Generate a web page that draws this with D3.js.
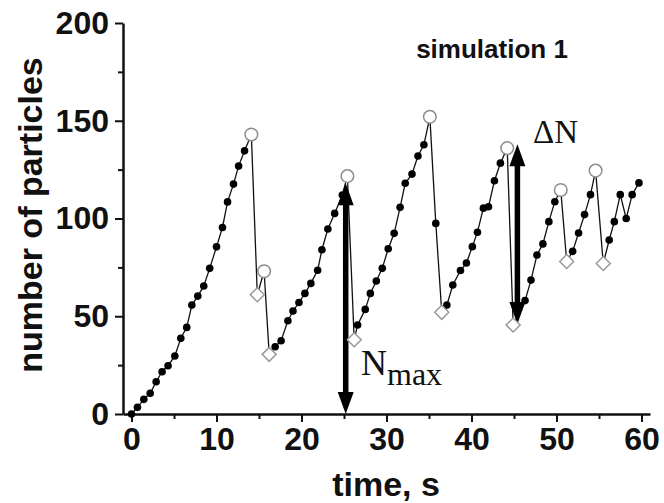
<!DOCTYPE html>
<html>
<head>
<meta charset="utf-8">
<script src="https://cdn.jsdelivr.net/npm/d3@7"></script>
<style>
  body { margin: 0; background: #fff; }
  svg { font-family: "Liberation Sans", Arial, sans-serif; }
</style>
</head>
<body>
<div id="chart"></div>
<script>
// Data: time (s) and number of particles
var dotTimes = [0, 0.7, 1.45, 2.2, 2.9, 3.6, 4.3, 5.1, 5.8, 6.5, 7.1, 7.8, 8.5, 9.2, 10.0, 10.7, 11.3, 12.0, 12.6, 13.3,
  16.9, 17.6, 18.4, 19.0, 19.7, 20.4, 21.1, 21.9, 22.4, 23.1, 23.9, 24.8,
  26.6, 27.5, 28.1, 28.8, 29.5, 30.2, 30.9, 31.6, 32.2, 33.0, 33.7, 34.4,
  35.8, 37.1, 37.8, 38.7, 39.4, 40.1, 40.7, 41.4, 42.0, 42.7, 43.4,
  46.3, 47.0, 47.7, 48.4, 49.1, 49.8,
  51.9, 52.6, 53.3, 54.0,
  56.2, 56.8, 57.5, 58.2, 58.9, 59.7];
var dotValues = [0, 3.4, 7.5, 10.6, 16.5, 21.6, 24.7, 29.7, 38.7, 44.3, 55.7, 60.3, 65.5, 74.5, 85.5, 95.4, 108.5, 117.6, 126.8, 134.6,
  34.4, 37.5, 47.7, 52.7, 57, 61.7, 66.8, 73.5, 84, 94.6, 102.6, 112,
  45.5, 53.5, 61.7, 68, 74.5, 84.5, 92.4, 105.7, 118, 122.7, 132, 137.7,
  97.5, 55.7, 66, 73.4, 77.2, 85.6, 93, 105.3, 106, 119.3, 128.3,
  58, 68.5, 81.3, 87, 98.4, 108.6,
  83.2, 92.6, 102, 112.2,
  89, 98.4, 112.2, 100, 112.2, 118.2];

// peaks (open circles) and troughs (open diamonds)
var peakTimes = [14.1, 15.6, 25.4, 35.1, 44.2, 50.5, 54.6];
var peakValues = [143, 73, 121.7, 152, 136, 114.6, 124.5];
var troughTimes = [14.8, 16.2, 26.2, 36.5, 44.9, 51.2, 55.5];
var troughValues = [61, 30.5, 38, 52, 45.5, 78, 77];

// annotation arrows: [time, from, to]
var nmaxArrow = [25.2, 118, 0];
var deltaArrow = [45.4, 138, 46];

var xTicks = [0, 10, 20, 30, 40, 50, 60];
var xMinor = [5, 15, 25, 35, 45, 55];
var yTicks = [0, 50, 100, 150, 200];
var yMinor = [25, 75, 125, 175];

var width = 664, height = 503;

var svg = d3.select("#chart").append("svg")
  .attr("width", width)
  .attr("height", height);

var x = d3.scaleLinear().domain([-1, 61]).range([123, 650]);
var y = d3.scaleLinear().domain([0, 200]).range([414, 23]);

// all points in time order for the connecting line
var points = [];
dotTimes.forEach(function(t, i) { points.push({ t: t, v: dotValues[i], kind: "dot" }); });
peakTimes.forEach(function(t, i) { points.push({ t: t, v: peakValues[i], kind: "peak" }); });
troughTimes.forEach(function(t, i) { points.push({ t: t, v: troughValues[i], kind: "trough" }); });
points.sort(function(a, b) { return a.t - b.t; });

// axes
svg.append("g")
  .attr("transform", "translate(0," + y(0) + ")")
  .call(d3.axisBottom(x).tickValues(xTicks).tickSize(8).tickSizeOuter(0).tickPadding(5));
svg.append("g")
  .attr("transform", "translate(0," + y(0) + ")")
  .call(d3.axisBottom(x).tickValues(xMinor).tickSize(5).tickFormat(""))
  .select(".domain").remove();

svg.append("g")
  .attr("transform", "translate(" + x(-1) + ",0)")
  .call(d3.axisLeft(y).tickValues(yTicks).tickSize(8).tickSizeOuter(0).tickPadding(6));
svg.append("g")
  .attr("transform", "translate(" + x(-1) + ",0)")
  .call(d3.axisLeft(y).tickValues(yMinor).tickSize(5).tickFormat(""))
  .select(".domain").remove();

svg.selectAll(".domain").attr("stroke", "#111").attr("stroke-width", 2.5);
svg.selectAll(".tick line").attr("stroke", "#111").attr("stroke-width", 2);
svg.selectAll(".tick text")
  .attr("fill", "#111")
  .style("font-size", "32px")
  .style("font-weight", "bold")
  .style("font-family", "'Liberation Sans', Arial, sans-serif");

// axis titles
svg.append("text")
  .attr("x", 386).attr("y", 496)
  .attr("text-anchor", "middle")
  .style("font-size", "34px").style("font-weight", "bold")
  .attr("fill", "#111")
  .text("time, s");

svg.append("text")
  .attr("transform", "translate(42,215) rotate(-90)")
  .attr("text-anchor", "middle")
  .style("font-size", "34px").style("font-weight", "bold")
  .attr("fill", "#111")
  .text("number of particles");

svg.append("text")
  .attr("x", 492).attr("y", 58)
  .attr("text-anchor", "middle")
  .style("font-size", "26px").style("font-weight", "bold")
  .attr("fill", "#111")
  .text("simulation 1");

// connecting line
svg.append("path")
  .datum(points)
  .attr("fill", "none")
  .attr("stroke", "#111")
  .attr("stroke-width", 1.3)
  .attr("d", d3.line().x(function(d) { return x(d.t); }).y(function(d) { return y(d.v); }));

// filled dots
svg.selectAll("circle.dot")
  .data(points.filter(function(d) { return d.kind === "dot"; }))
  .join("circle")
  .attr("class", "dot")
  .attr("cx", function(d) { return x(d.t); })
  .attr("cy", function(d) { return y(d.v); })
  .attr("r", 3.8)
  .attr("fill", "#000");

// arrows
function arrow(a) {
  var xp = x(a[0]), y1 = y(a[1]), y2 = y(a[2]);
  var dir = y2 > y1 ? 1 : -1;
  var head = 22, half = 8;
  svg.append("line")
    .attr("x1", xp).attr("x2", xp)
    .attr("y1", y1 + dir * head * 0.8).attr("y2", y2 - dir * head * 0.8)
    .attr("stroke", "#000").attr("stroke-width", 5.5);
  [[y1, dir], [y2, -dir]].forEach(function(p) {
    var tip = p[0], d = p[1];
    svg.append("path")
      .attr("d", "M" + xp + "," + tip + "L" + (xp - half) + "," + (tip + d * head) +
        "L" + (xp + half) + "," + (tip + d * head) + "Z")
      .attr("fill", "#000");
  });
}
arrow(nmaxArrow);
arrow(deltaArrow);

// open circles (peaks)
svg.selectAll("circle.peak")
  .data(points.filter(function(d) { return d.kind === "peak"; }))
  .join("circle")
  .attr("class", "peak")
  .attr("cx", function(d) { return x(d.t); })
  .attr("cy", function(d) { return y(d.v); })
  .attr("r", 6.3)
  .attr("fill", "#fff")
  .attr("stroke", "#8c8c8c")
  .attr("stroke-width", 1.5);

// open diamonds (troughs)
var diamond = d3.symbol().type(d3.symbolDiamond2).size(125);
svg.selectAll("path.trough")
  .data(points.filter(function(d) { return d.kind === "trough"; }))
  .join("path")
  .attr("class", "trough")
  .attr("transform", function(d) { return "translate(" + x(d.t) + "," + y(d.v) + ")"; })
  .attr("d", diamond)
  .attr("fill", "#fff")
  .attr("stroke", "#999")
  .attr("stroke-width", 1.5);

// labels for the arrows
var nmax = svg.append("text")
  .attr("x", 361).attr("y", 375)
  .style("font-family", "'Liberation Serif', 'Times New Roman', serif")
  .attr("fill", "#111");
nmax.append("tspan").style("font-size", "36px").text("N");
nmax.append("tspan").attr("dy", 10).style("font-size", "32px").text("max");

svg.append("text")
  .attr("x", 533).attr("y", 143)
  .style("font-family", "'Liberation Serif', 'Times New Roman', serif")
  .style("font-size", "33px")
  .attr("fill", "#111")
  .text("\u0394N");
</script>
</body>
</html>
